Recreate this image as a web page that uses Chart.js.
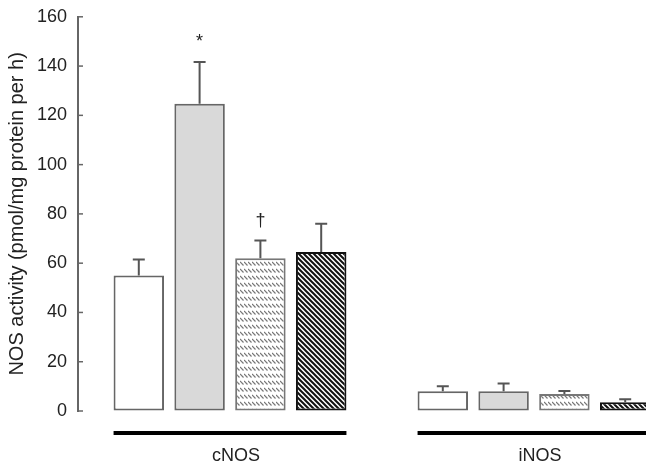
<!DOCTYPE html>
<html>
<head>
<meta charset="utf-8">
<script src="https://cdn.jsdelivr.net/npm/chart.js@4"></script>
<style>
  html, body { margin: 0; padding: 0; background: #fff; overflow: hidden; }
  #wrap { width: 646px; height: 468px; overflow: hidden; }
  #myChart { display: block; margin-top: -5px; }
</style>
</head>
<body>
<div id="wrap"><canvas id="myChart" width="690" height="473"></canvas></div>
<script>
// chart data
const groups = ["cNOS", "iNOS"];
const seriesNames = ["Group 1", "Group 2", "Group 3", "Group 4"];
const means = [
  [55, 8],
  [124.7, 8],
  [62, 6.9],
  [64.5, 3.6]
];
const errors = [
  [6.5, 2],
  [17, 3.2],
  [7.2, 1.2],
  [11.5, 1.2]
];
const markers = [
  ["", ""],
  ["*", ""],
  ["\u2020", ""],
  ["", ""]
];
const yTicks = { min: 0, max: 160, step: 20 };

const FONT = "'Liberation Sans', Arial, sans-serif";

// hatch patterns
function wavyPattern() {
  const c = document.createElement('canvas');
  c.width = 4; c.height = 7;
  const g = c.getContext('2d');
  g.fillStyle = '#fff';
  g.fillRect(0, 0, 4, 7);
  g.strokeStyle = '#777';
  g.lineWidth = 1.2;
  g.beginPath();
  g.moveTo(0, 1);
  g.lineTo(3.5, 4.5);
  g.stroke();
  return g.createPattern(c, 'repeat');
}

function stripePattern() {
  const s = 5;
  const c = document.createElement('canvas');
  c.width = s; c.height = s;
  const g = c.getContext('2d');
  g.fillStyle = '#fff';
  g.fillRect(0, 0, s, s);
  g.strokeStyle = '#111';
  g.lineWidth = 2;
  g.beginPath();
  g.moveTo(-1, -1); g.lineTo(s + 1, s + 1);
  g.moveTo(-1, s - 1); g.lineTo(1, s + 1);
  g.moveTo(s - 1, -1); g.lineTo(s + 1, 1);
  g.stroke();
  return g.createPattern(c, 'repeat');
}

const fills = ["#ffffff", "#d9d9d9", wavyPattern(), stripePattern()];
const borders = ["#666", "#666", "#777", "#111"];

// error bars, markers, group lines, inward ticks
const extras = {
  id: 'extras',
  afterDatasetsDraw(chart) {
    const ctx = chart.ctx;
    const y = chart.scales.y;
    const area = chart.chartArea;
    ctx.save();
    ctx.strokeStyle = '#555';
    ctx.lineWidth = 2;
    chart.data.datasets.forEach((ds, di) => {
      chart.getDatasetMeta(di).data.forEach((el, i) => {
        const top = y.getPixelForValue(ds.data[i] + errors[di][i]);
        ctx.beginPath();
        ctx.moveTo(el.x, el.y);
        ctx.lineTo(el.x, top);
        ctx.moveTo(el.x - 6, top);
        ctx.lineTo(el.x + 6, top);
        ctx.stroke();
        const m = markers[di][i];
        if (m) {
          ctx.fillStyle = '#222';
          ctx.font = '18px ' + FONT;
          ctx.textAlign = 'center';
          ctx.textBaseline = 'alphabetic';
          ctx.fillText(m, el.x, top - 15);
        }
      });
    });

    // group underline
    ctx.strokeStyle = '#000';
    ctx.lineWidth = 4;
    groups.forEach((g, i) => {
      let lo = Infinity, hi = -Infinity;
      chart.data.datasets.forEach((ds, di) => {
        const el = chart.getDatasetMeta(di).data[i];
        lo = Math.min(lo, el.x - el.width / 2);
        hi = Math.max(hi, el.x + el.width / 2);
      });
      ctx.beginPath();
      ctx.moveTo(lo, area.bottom + 22);
      ctx.lineTo(hi, area.bottom + 22);
      ctx.stroke();
    });

    // inward tick marks
    ctx.strokeStyle = '#666';
    ctx.lineWidth = 1.5;
    y.ticks.forEach(t => {
      const py = y.getPixelForValue(t.value);
      ctx.beginPath();
      ctx.moveTo(area.left, py);
      ctx.lineTo(area.left + 5, py);
      ctx.stroke();
    });
    ctx.restore();
  }
};

new Chart("myChart", {
  type: "bar",
  data: {
    labels: groups,
    datasets: seriesNames.map((name, i) => ({
      label: name,
      data: means[i],
      backgroundColor: fills[i],
      borderColor: borders[i],
      borderWidth: 2,
      borderSkipped: false
    }))
  },
  options: {
    responsive: false,
    animation: false,
    events: [],
    categoryPercentage: 0.8,
    barPercentage: 0.83,
    layout: { padding: { top: 0, left: 0, right: 4, bottom: 0 } },
    plugins: {
      legend: { display: false },
      tooltip: { enabled: false }
    },
    scales: {
      x: {
        grid: { display: false, drawTicks: false },
        border: { display: false },
        ticks: { color: '#222', font: { family: FONT, size: 18 }, padding: 34, labelOffset: 6 },
        afterFit(scale) { scale.height = 57; }
      },
      y: {
        min: yTicks.min,
        max: yTicks.max,
        grid: { drawOnChartArea: false, drawTicks: false },
        border: { color: '#666', width: 2 },
        ticks: { stepSize: yTicks.step, color: '#222', padding: 11, font: { family: FONT, size: 18 } },
        afterFit(scale) { scale.width = 78; },
        title: {
          display: true,
          text: 'NOS activity (pmol/mg protein per h)',
          color: '#222',
          font: { family: FONT, size: 20 },
          padding: { top: 5, bottom: 8 }
        }
      }
    }
  },
  plugins: [extras]
});
</script>
</body>
</html>
